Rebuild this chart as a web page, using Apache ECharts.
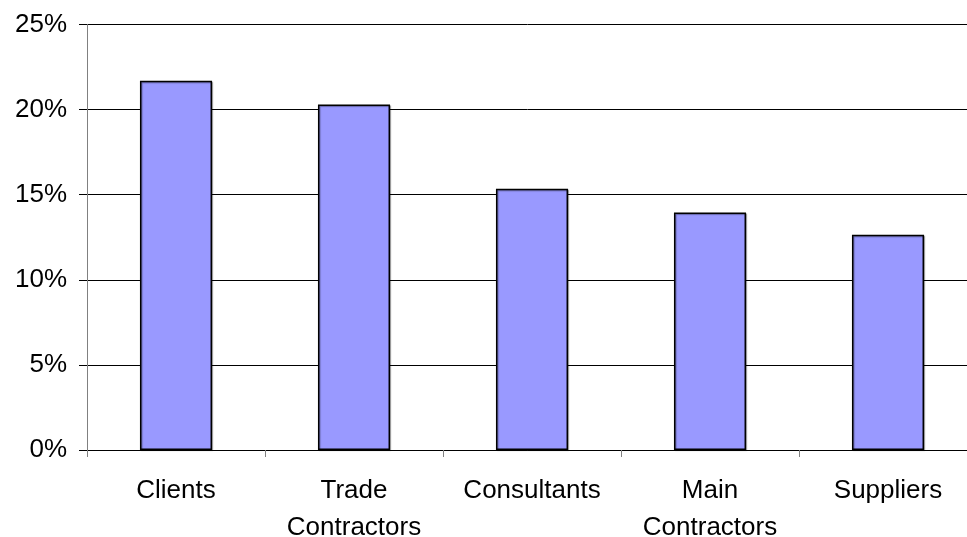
<!DOCTYPE html>
<html>
<head>
<meta charset="utf-8">
<script src="https://cdn.jsdelivr.net/npm/echarts@6/dist/echarts.min.js"></script>
<style>
  html, body { margin: 0; padding: 0; background: #fff; }
  #chart { width: 967px; height: 537px; }
</style>
</head>
<body>
<div id="chart"></div>
<script>
// Share of responses by stakeholder group
const categories = ['Clients', 'Trade\nContractors', 'Consultants', 'Main\nContractors', 'Suppliers'];
const shares = [21.7, 20.3, 15.35, 13.95, 12.65];
const yTicks = [0, 5, 10, 15, 20, 25];

const chart = echarts.init(document.getElementById('chart'));
chart.setOption({
  animation: false,
  grid: { left: 87, top: 24.5, width: 890, height: 425.5, outerBoundsMode: 'none', containLabel: false },
  xAxis: {
    type: 'category',
    data: categories,
    axisLine: { show: true, lineStyle: { color: '#000', width: 1 } },
    axisTick: { show: true, alignWithLabel: false, length: 7, lineStyle: { color: '#808080' } },
    axisLabel: {
      color: '#000', fontFamily: 'Liberation Sans, Arial', fontSize: 26,
      lineHeight: 37, margin: 22, interval: 0
    }
  },
  yAxis: {
    type: 'value',
    min: yTicks[0],
    max: yTicks[yTicks.length - 1],
    interval: 5,
    axisLine: { show: true, lineStyle: { color: '#808080', width: 1 } },
    axisTick: { show: true, length: 8, lineStyle: { color: '#000' } },
    splitLine: { show: true, lineStyle: { color: '#000', width: 1 } },
    axisLabel: {
      color: '#000', fontFamily: 'Liberation Sans, Arial', fontSize: 26,
      margin: 20, formatter: v => v + '%'
    }
  },
  series: [{
    type: 'bar',
    data: shares,
    barWidth: '40.5%',
    itemStyle: {
      color: '#9999FF',
      borderColor: '#000',
      borderWidth: 1.5,
      shadowColor: 'rgba(0,0,0,0.35)',
      shadowBlur: 1,
      shadowOffsetX: 1,
      shadowOffsetY: 1
    }
  }]
});
</script>
</body>
</html>
